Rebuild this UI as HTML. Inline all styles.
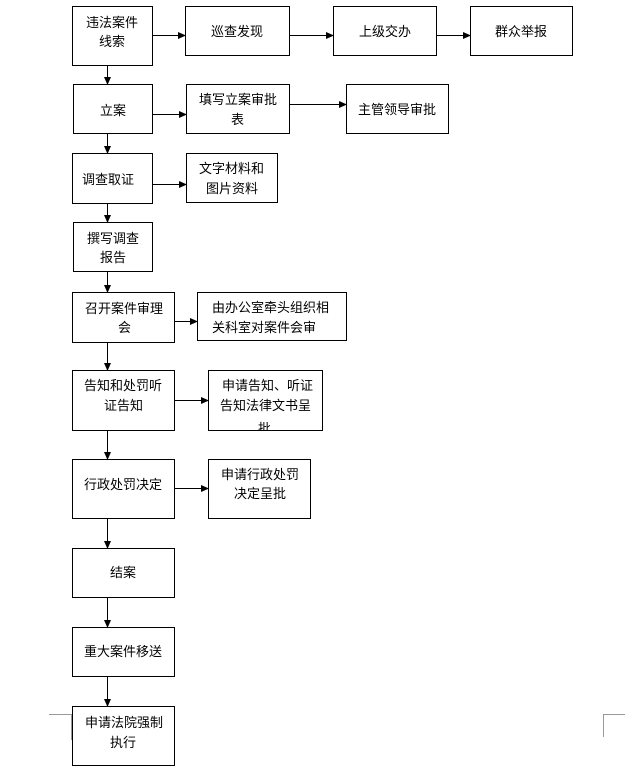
<!DOCTYPE html>
<html><head><meta charset="utf-8"><style>
html,body{margin:0;padding:0;background:#fff;}
svg{display:block;}
text{font-family:"Liberation Sans","Noto Sans CJK SC",sans-serif;font-size:13px;fill:#000;}
</style></head><body>
<svg width="625" height="770" viewBox="0 0 625 770">
<defs><marker id="a" markerWidth="8" markerHeight="8" refX="7" refY="4" orient="auto" markerUnits="userSpaceOnUse"><path d="M0,0.5 L8,4 L0,7.5 z" fill="#000"/></marker>
<clipPath id="c"><rect x="208" y="418" width="114" height="12"/></clipPath></defs>
<g fill="none" stroke="#000" stroke-width="1">
<rect x="72.5" y="6.5" width="80" height="59"/>
<rect x="185.5" y="6.5" width="104" height="49"/>
<rect x="333.5" y="6.5" width="103" height="49"/>
<rect x="470.5" y="6.5" width="102" height="49"/>
<rect x="73.5" y="84.5" width="79" height="49"/>
<rect x="186.5" y="84.5" width="103" height="49"/>
<rect x="346.5" y="84.5" width="102" height="49"/>
<rect x="72.5" y="153.5" width="80" height="50"/>
<rect x="186.5" y="153.5" width="91" height="49"/>
<rect x="73.5" y="222.5" width="79" height="49"/>
<rect x="72.5" y="292.5" width="102" height="50"/>
<rect x="197.5" y="292.5" width="149" height="48"/>
<rect x="72.5" y="370.5" width="102" height="60"/>
<rect x="208.5" y="370.5" width="114" height="60"/>
<rect x="72.5" y="459.5" width="102" height="59"/>
<rect x="208.5" y="459.5" width="102" height="59"/>
<rect x="72.5" y="548.5" width="102" height="49"/>
<rect x="72.5" y="627.5" width="102" height="49"/>
<rect x="72.5" y="706.5" width="102" height="59"/>
</g>
<g stroke="#000" stroke-width="1" marker-end="url(#a)">
<line x1="152" y1="35.5" x2="185" y2="35.5"/>
<line x1="289" y1="35.5" x2="333" y2="35.5"/>
<line x1="436" y1="35.5" x2="470" y2="35.5"/>
<line x1="153" y1="114.5" x2="186" y2="114.5"/>
<line x1="289" y1="104.5" x2="346" y2="104.5"/>
<line x1="152" y1="184.5" x2="186" y2="184.5"/>
<line x1="174" y1="321.5" x2="197" y2="321.5"/>
<line x1="174" y1="400.5" x2="208" y2="400.5"/>
<line x1="174" y1="488.5" x2="208" y2="488.5"/>
<line x1="107.5" y1="65" x2="107.5" y2="84"/>
<line x1="107.5" y1="133" x2="107.5" y2="153"/>
<line x1="107.5" y1="203" x2="107.5" y2="222"/>
<line x1="107.5" y1="271" x2="107.5" y2="292"/>
<line x1="107.5" y1="342" x2="107.5" y2="370"/>
<line x1="107.5" y1="430" x2="107.5" y2="459"/>
<line x1="107.5" y1="518" x2="107.5" y2="548"/>
<line x1="107.5" y1="597" x2="107.5" y2="627"/>
<line x1="107.5" y1="676" x2="107.5" y2="706"/>
</g>
<g stroke="#999" stroke-width="1" fill="none">
<path d="M49,714.5 H72 M71.5,714 V740"/>
<path d="M603.5,737 V714.5 H625"/>
</g>
<text x="86" y="27">违法案件</text><text x="99" y="46">线索</text>
<text x="237" y="36" text-anchor="middle">巡查发现</text>
<text x="385" y="36" text-anchor="middle">上级交办</text>
<text x="521" y="36" text-anchor="middle">群众举报</text>
<text x="113" y="115" text-anchor="middle">立案</text>
<text x="199" y="104">填写立案审批</text><text x="231" y="124">表</text>
<text x="397" y="114" text-anchor="middle">主管领导审批</text>
<text x="82" y="184">调查取证</text>
<text x="199" y="173">文字材料和</text><text x="206" y="193">图片资料</text>
<text x="87" y="243">撰写调查</text><text x="100" y="262">报告</text>
<text x="85" y="313">召开案件审理</text><text x="118" y="332">会</text>
<text x="212" y="312">由办公室牵头组织相</text><text x="212" y="332">关科室对案件会审</text>
<text x="84" y="390">告知和处罚听</text><text x="104" y="410">证告知</text>
<text x="222" y="390">申请告知、听证</text><text x="220" y="410">告知法律文书呈</text>
<g clip-path="url(#c)"><text x="258" y="433">批</text></g>
<text x="84" y="489">行政处罚决定</text>
<text x="221" y="479">申请行政处罚</text><text x="234" y="498">决定呈批</text>
<text x="123" y="577" text-anchor="middle">结案</text>
<text x="84" y="656">重大案件移送</text>
<text x="85" y="727">申请法院强制</text><text x="110" y="747">执行</text>
</svg>
</body></html>
